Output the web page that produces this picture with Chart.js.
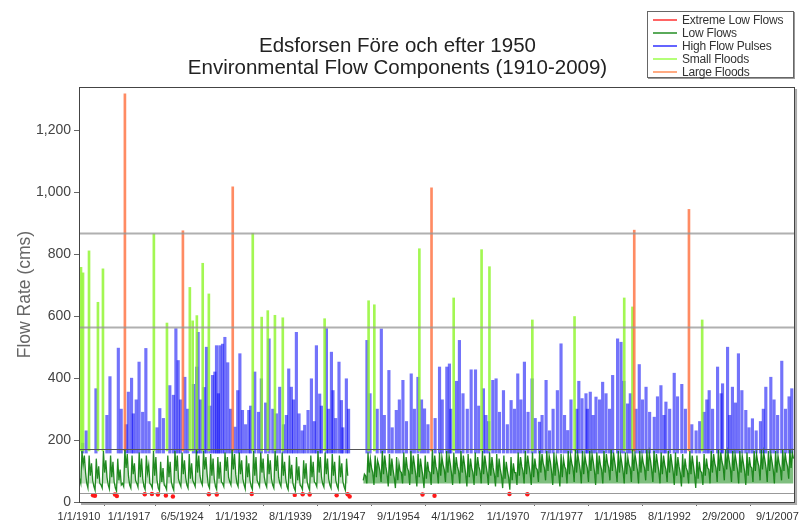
<!DOCTYPE html>
<html>
<head>
<meta charset="utf-8">
<title>Edsforsen flow components</title>
<script src="https://cdn.jsdelivr.net/npm/chart.js@4.4.0/dist/chart.umd.min.js"></script>
<style>
  html, body { margin: 0; padding: 0; background: #fff; }
  #wrap { position: relative; width: 803px; height: 523px; }
  #legend {
    position: absolute; left: 647px; top: 11px; width: 147px; height: 67px;
    box-sizing: border-box; padding: 1px 0 0 5px; background: #fff;
    border: 1px solid #666; box-shadow: 1px 1px 0 #999;
    font: 12px 'Liberation Sans', Arial, sans-serif; color: #333; letter-spacing: -0.2px;
  }
  #legend .item { display: flex; align-items: center; height: 13px; white-space: nowrap; }
  #legend .sw { width: 24px; height: 2px; margin-right: 5px; flex: none; }
</style>
</head>
<body>
<div id="wrap">
  <canvas id="chart" width="803" height="523"></canvas>
  <div id="legend"></div>
</div>
<script>
'use strict';

// ─── DATA ────────────────────────────────────────────────────────────────────
const TITLE_LINES = ['Edsforsen Före och efter 1950', 'Environmental Flow Components (1910-2009)'];
const Y_TITLE = 'Flow Rate (cms)';

const yTicks = [0, 200, 400, 600, 800, 1000, 1200];
const xTickYears = [1910, 1917, 1924.43, 1932, 1939.58, 1947.08, 1954.67, 1962.25,
                    1970, 1977.5, 1985, 1992.58, 2000.11, 2007.67];
const xTickLabels = ['1/1/1910', '1/1/1917', '6/5/1924', '1/1/1932', '8/1/1939', '2/1/1947',
                     '9/1/1954', '4/1/1962', '1/1/1970', '7/1/1977', '1/1/1985', '8/1/1992',
                     '2/9/2000', '9/1/2007'];

// threshold lines (cms)
const thresholds = [868, 565, 172, 30];

// [decimal year, peak cms]
const largeFloods = [
  [1916.42, 1318], [1924.53, 876], [1931.5, 1018], [1959.3, 1015], [1987.65, 878], [1995.3, 945]
];

const smallFloods = [
  [1910.28, 758], [1910.56, 740], [1911.4, 811], [1912.65, 645], [1913.35, 753],
  [1920.47, 866], [1922.3, 578], [1925.5, 693], [1925.9, 585], [1926.48, 602],
  [1927.3, 771], [1928.16, 672], [1934.3, 868], [1935.55, 597], [1936.4, 618],
  [1937.4, 603], [1938.5, 595], [1944.35, 592], [1950.5, 650], [1951.3, 637],
  [1957.6, 818], [1962.4, 659], [1966.3, 815], [1967.4, 760], [1973.4, 588],
  [1979.3, 599], [1986.25, 659], [1987.4, 630], [1997.15, 588]
];

const highPulses = [
  [1910.5, 190], [1911.0, 230], [1912.37, 366], [1913.9, 280], [1914.33, 405],
  [1915.5, 497], [1915.9, 300], [1916.6, 250], [1916.9, 355], [1917.35, 400],
  [1917.6, 285], [1918.0, 330], [1918.4, 452], [1918.9, 290], [1919.35, 496],
  [1919.8, 260], [1920.9, 240], [1921.3, 302], [1921.8, 270], [1922.7, 376],
  [1923.2, 345], [1923.55, 560], [1923.87, 457], [1924.2, 330], [1924.8, 403],
  [1925.2, 300], [1926.0, 380], [1926.45, 436], [1926.66, 548], [1927.0, 330],
  [1927.5, 370], [1927.83, 500], [1928.3, 310], [1928.67, 409], [1929.0, 420],
  [1929.23, 505], [1929.5, 350], [1929.7, 505], [1930.07, 510], [1930.4, 532],
  [1930.8, 450], [1931.2, 300], [1931.8, 242], [1932.2, 360], [1932.5, 479],
  [1932.86, 296], [1933.3, 250], [1933.74, 296], [1934.0, 310], [1934.58, 420],
  [1935.1, 290], [1935.5, 398], [1936.1, 320], [1936.58, 527], [1937.1, 300],
  [1937.6, 285], [1938.07, 371], [1938.6, 250], [1939.0, 280], [1939.33, 430],
  [1939.7, 371], [1940.0, 330], [1940.4, 548], [1940.77, 285], [1941.2, 230],
  [1941.56, 248], [1942.03, 296], [1942.5, 398], [1942.9, 260], [1943.2, 505],
  [1943.66, 349], [1943.9, 310], [1944.6, 560], [1944.9, 300], [1945.3, 484],
  [1945.52, 360], [1945.9, 270], [1946.36, 452], [1946.7, 328], [1946.9, 240],
  [1947.39, 398], [1947.7, 300],
  [1950.27, 522], [1950.7, 350], [1951.7, 300], [1952.28, 559], [1952.7, 280],
  [1953.34, 425], [1953.8, 240], [1954.37, 296], [1954.8, 330], [1955.3, 393],
  [1955.8, 260], [1956.46, 414], [1956.9, 300], [1957.4, 403], [1957.9, 330],
  [1958.32, 301], [1958.8, 250], [1959.8, 270], [1960.42, 436], [1960.8, 330],
  [1961.44, 436], [1961.8, 446], [1962.0, 300], [1962.8, 390], [1963.2, 522],
  [1963.7, 350], [1964.3, 300], [1964.84, 427], [1965.45, 427], [1965.9, 310],
  [1966.56, 366], [1966.9, 280], [1967.3, 260], [1967.87, 393], [1968.33, 398],
  [1968.8, 290], [1969.36, 360], [1969.9, 250], [1970.43, 328], [1970.9, 300],
  [1971.36, 414], [1971.8, 330], [1972.29, 452], [1972.8, 290], [1973.36, 398],
  [1973.8, 270], [1974.39, 258], [1974.76, 280], [1975.32, 393], [1975.8, 230],
  [1976.3, 300], [1976.9, 360], [1977.41, 511], [1977.9, 280], [1978.34, 231],
  [1978.8, 330], [1979.6, 300], [1979.9, 390], [1980.35, 334], [1980.9, 350],
  [1981.1, 300], [1981.5, 355], [1981.9, 280], [1982.3, 339], [1982.8, 330],
  [1983.23, 387], [1983.7, 350], [1984.2, 300], [1984.63, 409], [1985.32, 527],
  [1985.8, 516], [1986.2, 390], [1986.72, 317], [1987.1, 350], [1987.9, 300],
  [1988.35, 444], [1988.8, 330], [1989.3, 371], [1989.8, 290], [1990.45, 274],
  [1990.9, 340], [1991.38, 376], [1991.8, 280], [1992.08, 323], [1992.6, 300],
  [1993.24, 416], [1993.7, 340], [1994.3, 380], [1994.8, 300], [1995.7, 250],
  [1996.3, 230], [1996.8, 260], [1997.4, 290], [1997.8, 330], [1998.13, 360],
  [1998.6, 300], [1999.3, 436], [1999.8, 350], [2000.0, 382], [2000.7, 500],
  [2001.0, 280], [2001.38, 371], [2001.8, 320], [2002.22, 479], [2002.7, 360],
  [2003.25, 296], [2003.7, 240], [2004.18, 269], [2004.7, 230], [2005.3, 260],
  [2005.7, 300], [2006.05, 371], [2006.75, 403], [2007.2, 330], [2007.7, 280],
  [2008.28, 455], [2008.8, 300], [2009.3, 340], [2009.68, 366]
];

const extremeLows = [
  [1911.96, 22], [1912.23, 20], [1915.03, 24], [1915.3, 19], [1919.2, 25],
  [1920.2, 26], [1921.03, 24], [1922.15, 21], [1923.13, 18], [1928.16, 25],
  [1929.27, 24], [1934.16, 26], [1940.17, 23], [1941.28, 25], [1942.26, 24],
  [1946.03, 22], [1947.57, 25], [1947.85, 18], [1958.04, 24], [1959.72, 20],
  [1970.2, 26], [1972.7, 25]
];

// base flow for pulses / floods (cms)
const PULSE_BASE = 158;
const FLOOD_BASE = 165;

// low flows, six readings per year (Jan, Mar, May, Jul, Sep, Nov), from 1910
const LOW_FLOW_START = 1910;
const lowFlows = [
  [75, 60, 165, 120, 150, 95], [60, 45, 150, 85, 125, 70], [50, 38, 140, 75, 115, 60],
  [55, 45, 165, 95, 135, 80], [55, 42, 150, 80, 130, 65], [45, 35, 140, 70, 105, 55],
  [60, 50, 170, 110, 155, 85], [55, 45, 150, 90, 125, 70], [60, 48, 160, 80, 140, 75],
  [50, 40, 150, 95, 120, 60], [55, 45, 165, 85, 145, 70], [45, 36, 130, 65, 110, 55],
  [50, 40, 150, 80, 130, 65], [48, 38, 165, 100, 150, 75], [60, 50, 160, 90, 135, 80],
  [55, 45, 155, 75, 125, 70], [60, 50, 170, 95, 150, 85], [65, 55, 165, 105, 145, 90],
  [55, 45, 155, 85, 140, 75], [50, 40, 145, 75, 130, 65], [60, 50, 160, 100, 145, 80],
  [65, 55, 170, 105, 155, 90], [60, 50, 160, 90, 135, 75], [55, 42, 150, 80, 125, 70],
  [50, 40, 165, 85, 145, 70], [60, 50, 160, 95, 140, 80], [58, 48, 155, 90, 135, 75],
  [55, 45, 165, 100, 150, 80], [60, 50, 160, 85, 130, 75], [50, 40, 150, 75, 120, 60],
  [45, 36, 145, 70, 115, 55], [50, 40, 135, 75, 125, 65], [48, 38, 150, 80, 130, 65],
  [60, 50, 165, 95, 145, 80], [58, 48, 160, 90, 140, 75], [55, 45, 155, 85, 130, 70],
  [52, 42, 150, 80, 125, 65], [48, 38, 140, 85, null, null],
  [null, null, null, null, null, null], [null, null, null, null, 70, 90],
  [85, 60, 160, 95, 140, 110], [95, 55, 150, 80, 135, 120], [100, 65, 165, 90, 150, 115],
  [90, 50, 155, 85, 140, 105], [80, 45, 145, 70, 125, 100], [95, 60, 160, 85, 145, 110],
  [100, 55, 165, 90, 150, 120], [90, 50, 155, 80, 140, 110], [85, 45, 150, 75, 130, 100],
  [95, 55, 170, 90, 150, 115], [100, 60, 160, 85, 145, 120], [105, 65, 165, 95, 150, 125],
  [95, 55, 160, 90, 145, 115], [100, 60, 165, 95, 150, 120], [90, 50, 155, 80, 140, 110],
  [95, 55, 160, 85, 145, 115], [100, 60, 165, 90, 150, 120], [95, 55, 160, 85, 145, 110],
  [90, 50, 155, 80, 140, 105], [85, 45, 150, 75, 130, 100], [80, 40, 145, 70, 125, 95],
  [95, 55, 160, 85, 145, 115], [100, 60, 165, 90, 150, 120], [95, 55, 160, 80, 140, 110],
  [105, 65, 165, 95, 155, 125], [110, 70, 165, 100, 150, 130], [100, 55, 160, 85, 145, 120],
  [95, 50, 155, 80, 140, 115], [105, 60, 165, 90, 150, 125], [110, 65, 170, 95, 155, 130],
  [105, 60, 165, 90, 150, 125], [110, 65, 165, 100, 155, 130], [100, 55, 160, 90, 150, 120],
  [105, 60, 165, 95, 155, 125], [110, 70, 170, 100, 160, 130], [105, 65, 165, 95, 150, 125],
  [100, 60, 160, 90, 145, 120], [110, 65, 170, 100, 155, 130], [105, 60, 165, 95, 150, 125],
  [110, 70, 170, 100, 160, 135], [105, 65, 165, 95, 155, 125], [100, 60, 160, 90, 150, 120],
  [105, 65, 165, 95, 155, 125], [100, 55, 160, 85, 145, 115], [95, 50, 155, 80, 140, 110],
  [100, 60, 165, 90, 150, 120], [90, 45, 150, 75, 130, 100], [95, 55, 155, 85, 140, 110],
  [105, 60, 165, 95, 155, 125], [110, 65, 170, 100, 160, 130], [115, 70, 170, 105, 160, 135],
  [110, 65, 165, 100, 155, 130], [105, 60, 165, 95, 150, 125], [100, 55, 160, 85, 145, 115],
  [110, 65, 165, 100, 155, 130], [115, 70, 170, 105, 160, 135], [110, 65, 165, 100, 155, 130],
  [105, 60, 165, 95, 150, 125], [110, 70, 170, 100, 160, 130], [115, 75, 170, 110, 160, 140]
];

// ─── STYLE ───────────────────────────────────────────────────────────────────
const FONT = "'Liberation Sans', Arial, sans-serif";
const REGULATED_FROM = 1949;   // darker shading for the regulated period
const COLORS = {
  extremeLow: '#ff1a1a',
  lowFlow: 'rgba(0,120,0,0.85)',
  lowFlowFill: 'rgba(60,150,60,0.3)',
  lowFlowFillReg: 'rgba(0,125,0,0.5)',
  pulse: 'rgba(0,0,245,0.55)',
  small: 'rgba(140,245,40,0.8)',
  large: 'rgba(255,110,60,0.8)'
};
const LEGEND = [
  { label: 'Extreme Low Flows', color: 'rgb(255,100,100)' },
  { label: 'Low Flows', color: 'rgb(90,170,90)' },
  { label: 'High Flow Pulses', color: 'rgb(100,100,255)' },
  { label: 'Small Floods', color: 'rgb(180,255,120)' },
  { label: 'Large Floods', color: 'rgb(255,170,130)' }
];

// ─── BUILD ───────────────────────────────────────────────────────────────────
const lowFlowPoints = [];
lowFlows.forEach((row, i) => {
  row.forEach((v, j) => lowFlowPoints.push({ x: LOW_FLOW_START + i + (j + 0.5) / row.length, y: v }));
});

const spikes = (list, base) => list.map(([x, peak]) => ({ x, y: [base, peak] }));

const frameAndThresholds = {
  id: 'frameAndThresholds',
  afterDatasetsDraw(chart) {
    const { ctx, chartArea: a, scales: { y } } = chart;
    const styles = [
      { c: 'rgba(150,150,150,0.75)', w: 2 },
      { c: 'rgba(150,150,150,0.75)', w: 2 },
      { c: '#555', w: 1 },
      { c: '#999', w: 1 }
    ];
    ctx.save();
    thresholds.forEach((v, i) => {
      const py = Math.round(y.getPixelForValue(v)) + 0.5;
      ctx.strokeStyle = styles[i].c;
      ctx.lineWidth = styles[i].w;
      ctx.beginPath();
      ctx.moveTo(a.left, py);
      ctx.lineTo(a.right, py);
      ctx.stroke();
    });
    // frame with shadow on right / bottom
    ctx.strokeStyle = '#aaa';
    ctx.lineWidth = 2;
    ctx.beginPath();
    ctx.moveTo(a.right + 2, a.top + 2);
    ctx.lineTo(a.right + 2, a.bottom + 2);
    ctx.lineTo(a.left + 2, a.bottom + 2);
    ctx.stroke();
    ctx.strokeStyle = '#444';
    ctx.lineWidth = 1;
    ctx.strokeRect(Math.round(a.left) + 0.5, Math.round(a.top) + 0.5,
                   Math.round(a.right - a.left), Math.round(a.bottom - a.top));
    ctx.restore();
  }
};

new Chart(document.getElementById('chart'), {
  type: 'bar',
  data: {
    datasets: [
      {
        type: 'scatter', label: 'Extreme Low Flows', data: extremeLows.map(([x, y]) => ({ x, y })),
        backgroundColor: COLORS.extremeLow, borderColor: COLORS.extremeLow,
        pointRadius: 2.2, borderWidth: 0
      },
      {
        type: 'line', label: 'Low Flows', data: lowFlowPoints,
        borderColor: COLORS.lowFlow, borderWidth: 1.3, pointRadius: 0, tension: 0, spanGaps: false,
        fill: { value: 60 }, backgroundColor: COLORS.lowFlowFill,
        segment: {
          backgroundColor: c => (c.p0.parsed.x >= REGULATED_FROM ? COLORS.lowFlowFillReg : COLORS.lowFlowFill)
        }
      },
      {
        label: 'Large Floods', data: spikes(largeFloods, FLOOD_BASE),
        backgroundColor: COLORS.large, barThickness: 2, grouped: false
      },
      {
        label: 'Small Floods', data: spikes(smallFloods, FLOOD_BASE),
        backgroundColor: COLORS.small, barThickness: 2, grouped: false
      },
      {
        label: 'High Flow Pulses', data: spikes(highPulses, PULSE_BASE),
        backgroundColor: COLORS.pulse, barThickness: 2.5, grouped: false
      }
    ]
  },
  options: {
    responsive: false,
    animation: false,
    events: [],
    layout: { padding: { left: 0, right: 8, top: 0, bottom: 0 } },
    plugins: {
      legend: { display: false },
      tooltip: { enabled: false },
      filler: { propagate: false },
      title: {
        display: true, text: TITLE_LINES, color: '#222',
        font: { family: FONT, size: 20.5, weight: 'normal', lineHeight: 1.1 },
        padding: { top: 35, bottom: 7 }
      }
    },
    scales: {
      x: {
        type: 'linear', min: 1910, max: 2010, offset: false,
        afterBuildTicks: s => { s.ticks = xTickYears.map(v => ({ value: v })); },
        afterFit: s => { s.height = 21; },
        ticks: {
          autoSkip: false, maxRotation: 0, color: '#333', padding: 4,
          font: { family: FONT, size: 11 },
          callback: (v, i) => xTickLabels[i]
        },
        grid: { drawOnChartArea: false, tickLength: 4, color: '#666' },
        border: { display: true, color: '#444' }
      },
      y: {
        type: 'linear', min: 0, max: 1340,
        afterBuildTicks: s => { s.ticks = yTicks.map(v => ({ value: v })); },
        afterFit: s => { s.width = 79; },
        ticks: {
          color: '#444', padding: 3,
          font: { family: FONT, size: 14 },
          callback: v => v.toLocaleString('en-US')
        },
        grid: { drawOnChartArea: false, tickLength: 5, color: '#666' },
        border: { display: true, color: '#444' },
        title: {
          display: true, text: Y_TITLE, color: '#666',
          font: { family: FONT, size: 17.5 },
          padding: { top: 15, bottom: 0 }
        }
      }
    }
  },
  plugins: [frameAndThresholds]
});

// HTML legend
document.getElementById('legend').innerHTML = LEGEND.map(l =>
  `<div class="item"><span class="sw" style="background:${l.color}"></span>${l.label}</div>`
).join('');
</script>
</body>
</html>
